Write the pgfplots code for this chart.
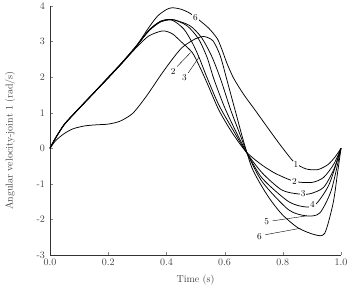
\documentclass[border=0pt]{standalone}
\usepackage{pgfplots}
\pgfplotsset{compat=1.18}
\usetikzlibrary{calc}
\begin{document}
\begin{tikzpicture}
\begin{axis}[
  name=ax,
  scale only axis,
  width=291pt, height=249pt,
  xmin=0, xmax=1, ymin=-3, ymax=4,
  axis x line*=bottom, axis y line*=left,
  axis line style={-, black!80},
  tick align=inside, major tick length=3pt,
  xtick={0,0.2,0.4,0.6,0.8,1.0},
  xticklabels={0.0,0.2,0.4,0.6,0.8,1.0},
  ytick={-3,-2,-1,0,1,2,3,4},
  yticklabels={-3,-2,-1,0,1,2,3,4},
  tick label style={text=black!75},
  yticklabel style={xshift=-1.5pt},
  xlabel={Time (s)},
  xlabel style={at={(axis description cs:0.5,0)}, anchor=north, yshift=-19.5pt, inner sep=0pt, text=black!75},
  ylabel={Angular velocity-joint 1 (rad/s)},
  ylabel style={at={(axis description cs:-0.137,0.46)}, anchor=center, text=black!75},
  crv/.style={black, line width=0.75pt, smooth, tension=0.45, mark=none},
  clip=false,
]
% curve 1
\addplot[crv] coordinates {(0,0) (0.02,0.3) (0.05,0.68) (0.1,1.13) (0.15,1.56) (0.2,2.0) (0.25,2.44) (0.3,2.92) (0.34,3.4) (0.37,3.72) (0.4,3.9) (0.42,3.95) (0.45,3.91) (0.48,3.8) (0.51,3.62) (0.545,3.38) (0.575,3.08) (0.592,2.75) (0.608,2.39) (0.631,1.97) (0.665,1.52) (0.705,1.07) (0.762,0.42) (0.8,0.0) (0.84,-0.4) (0.88,-0.58) (0.92,-0.6) (0.955,-0.46) (0.98,-0.24) (1.0,0)};
% curve 2
\addplot[crv] coordinates {(0,0) (0.02,0.3) (0.05,0.67) (0.1,1.12) (0.15,1.55) (0.2,1.98) (0.25,2.42) (0.3,2.86) (0.34,3.16) (0.387,3.3) (0.42,3.22) (0.45,3.0) (0.489,2.69) (0.515,2.28) (0.54,1.83) (0.58,1.08) (0.625,0.45) (0.672,-0.08) (0.72,-0.42) (0.773,-0.7) (0.84,-0.93) (0.9,-0.96) (0.94,-0.82) (0.975,-0.45) (1.0,0)};
% curve 3
\addplot[crv] coordinates {(0,0) (0.02,0.3) (0.05,0.68) (0.1,1.12) (0.15,1.55) (0.2,1.98) (0.25,2.42) (0.3,2.9) (0.34,3.3) (0.38,3.55) (0.42,3.6) (0.46,3.35) (0.49,2.95) (0.512,2.56) (0.54,1.98) (0.58,1.22) (0.63,0.5) (0.675,-0.12) (0.73,-0.7) (0.796,-1.17) (0.85,-1.28) (0.893,-1.28) (0.94,-1.1) (0.975,-0.6) (1.0,0)};
% curve 4
\addplot[crv] coordinates {(0,0) (0.02,0.3) (0.05,0.68) (0.1,1.12) (0.15,1.55) (0.2,1.98) (0.25,2.42) (0.3,2.9) (0.34,3.32) (0.38,3.57) (0.42,3.62) (0.47,3.45) (0.51,3.08) (0.54,2.55) (0.563,1.95) (0.6,1.15) (0.64,0.45) (0.679,-0.16) (0.73,-0.85) (0.82,-1.5) (0.88,-1.65) (0.916,-1.55) (0.96,-1.0) (1.0,0)};
% curve 5
\addplot[crv] coordinates {(0,0) (0.02,0.3) (0.05,0.68) (0.1,1.12) (0.15,1.55) (0.2,1.98) (0.25,2.42) (0.3,2.9) (0.34,3.32) (0.38,3.57) (0.42,3.62) (0.48,3.45) (0.52,3.12) (0.555,2.6) (0.586,1.95) (0.62,1.1) (0.65,0.45) (0.68,-0.18) (0.73,-0.95) (0.82,-1.73) (0.882,-1.9) (0.927,-1.82) (0.967,-1.17) (1.0,0)};
% curve 6
\addplot[crv] coordinates {(0,0) (0.02,0.22) (0.05,0.42) (0.08,0.55) (0.12,0.63) (0.16,0.66) (0.2,0.68) (0.24,0.76) (0.284,0.98) (0.33,1.45) (0.38,2.05) (0.42,2.5) (0.455,2.84) (0.5,3.08) (0.53,3.14) (0.56,3.02) (0.585,2.6) (0.608,1.92) (0.64,0.95) (0.665,0.2) (0.694,-0.55) (0.73,-1.1) (0.762,-1.5) (0.8,-1.88) (0.853,-2.24) (0.91,-2.43) (0.944,-2.39) (0.973,-1.54) (0.988,-0.7) (1.0,0)};
% labels
\node[fill=white, inner sep=1pt, font=\small] at (axis cs:0.5,3.66) {6};
\node[fill=white, inner sep=1pt, font=\small] at (axis cs:0.845,-0.47) {1};
\node[fill=white, inner sep=1pt, font=\small] at (axis cs:0.84,-0.94) {2};
\node[fill=white, inner sep=1pt, font=\small] at (axis cs:0.87,-1.28) {3};
\node[fill=white, inner sep=1pt, font=\small] at (axis cs:0.902,-1.58) {4};
\node[font=\small] at (axis cs:0.745,-2.06) {5};
\node[font=\small] at (axis cs:0.72,-2.48) {6};
\node[font=\small] at (axis cs:0.423,2.17) {2};
\node[font=\small] at (axis cs:0.462,2.0) {3};
\draw[black, line width=0.4pt] (axis cs:0.437,2.3) -- (axis cs:0.483,2.69);
\draw[black, line width=0.4pt] (axis cs:0.475,2.12) -- (axis cs:0.512,2.56);
\draw[black, line width=0.4pt] (axis cs:0.765,-2.04) -- (axis cs:0.882,-1.9);
\draw[black, line width=0.4pt] (axis cs:0.74,-2.43) -- (axis cs:0.86,-2.25);
\end{axis}
\pgfresetboundingbox
\path[use as bounding box] ($(ax.south west)+(-50pt,-30pt)$) rectangle ($(ax.north east)+(6pt,6pt)$);
\end{tikzpicture}
\end{document}
